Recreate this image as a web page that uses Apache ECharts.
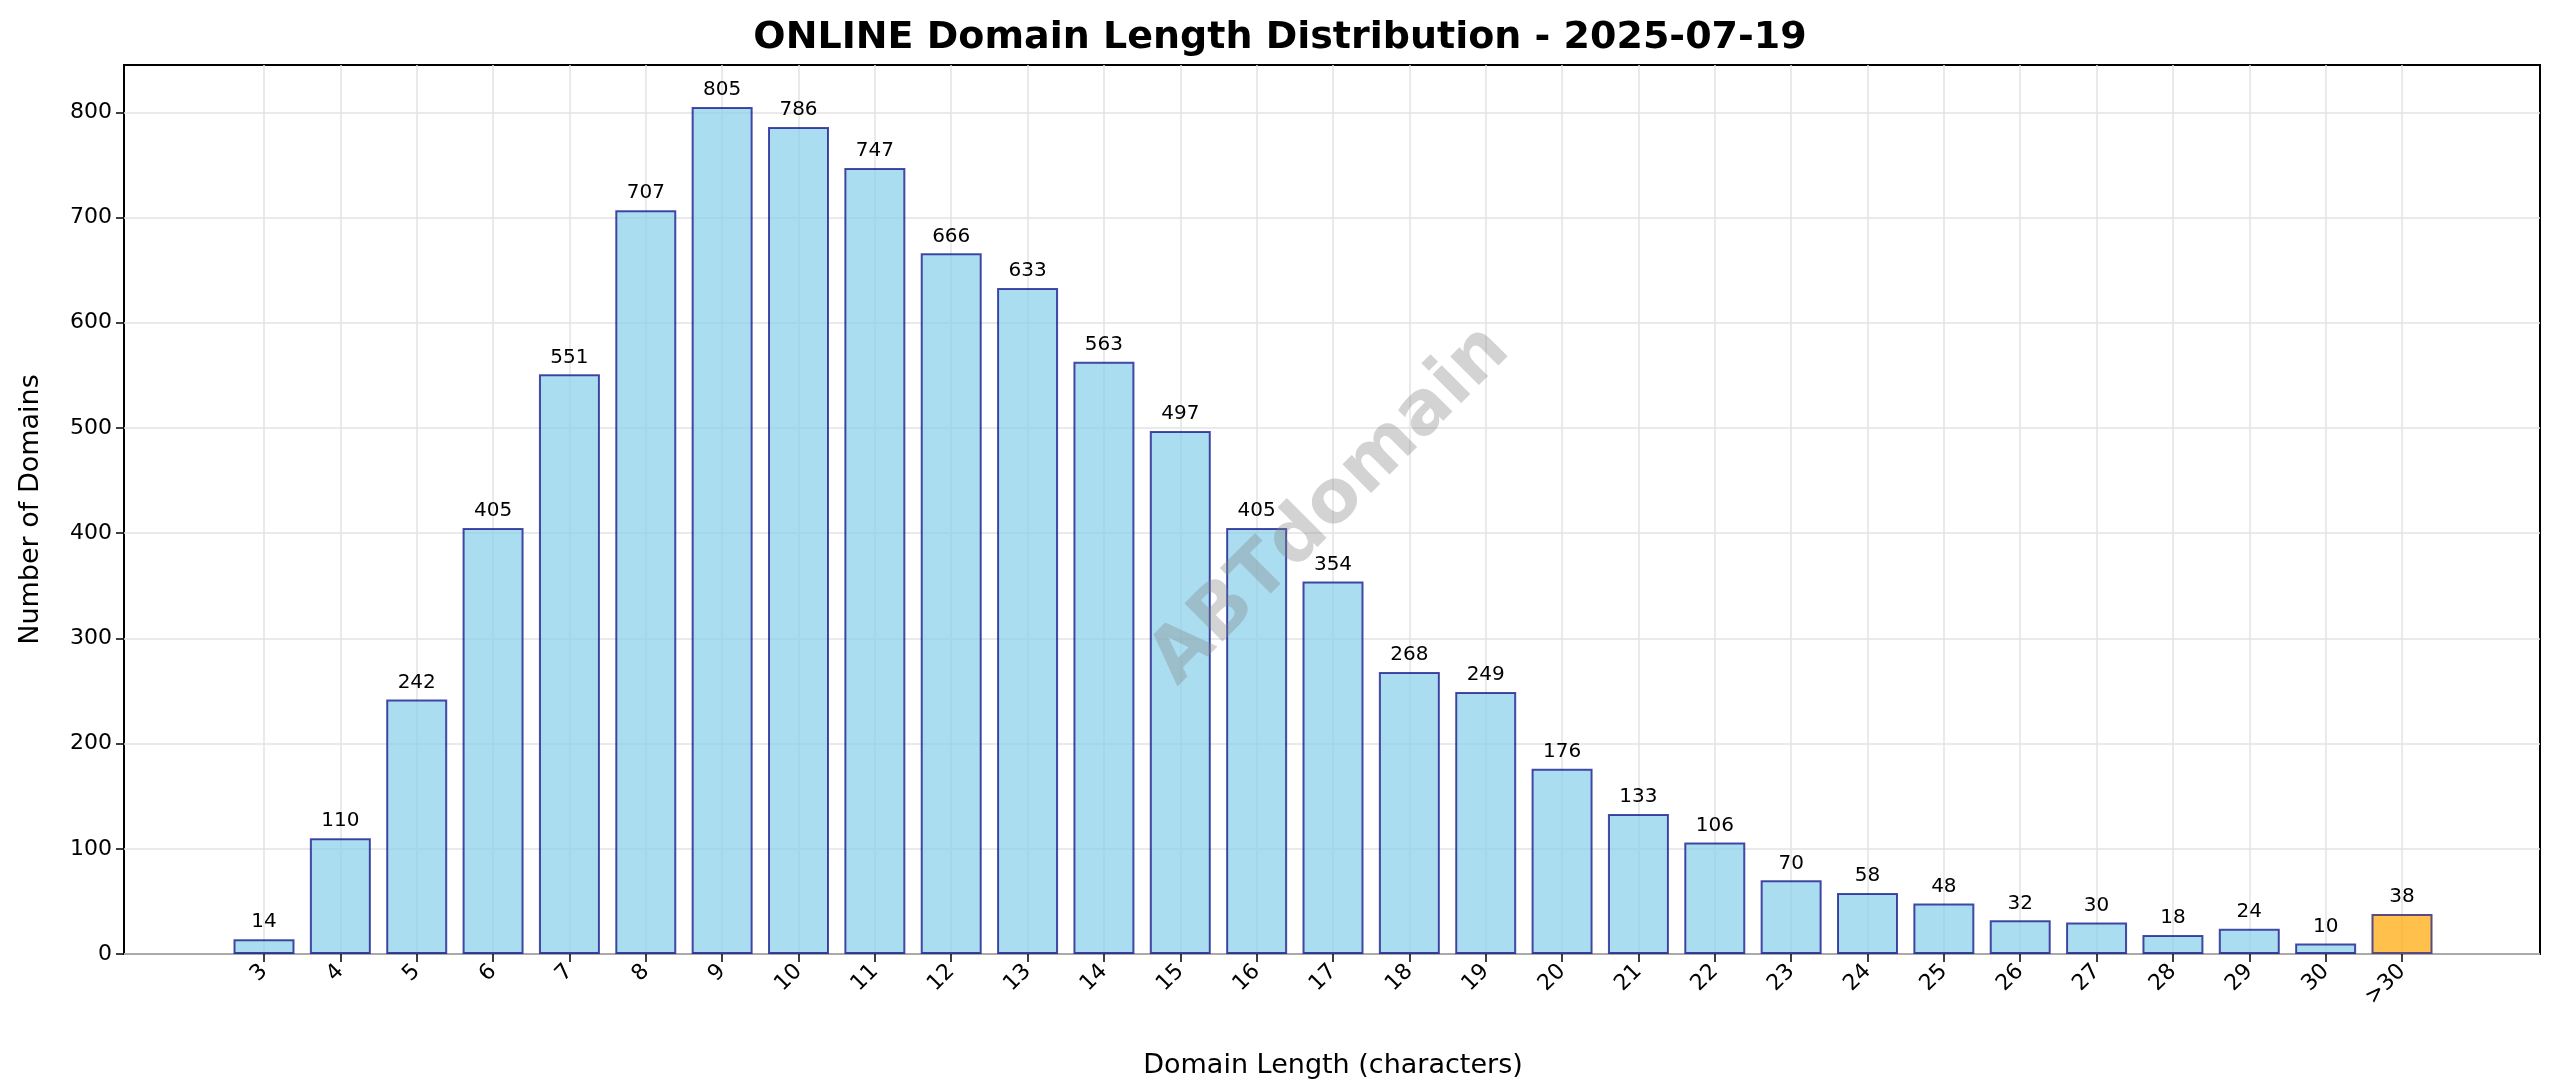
<!DOCTYPE html>
<html><head><meta charset="utf-8">
<script src="https://cdn.jsdelivr.net/npm/echarts@6/dist/echarts.min.js"></script>
<style>html,body{margin:0;padding:0;background:#fff}#c{width:2560px;height:1087px}</style>
</head><body><div id="c"></div>
<script>
const categories = ['3','4','5','6','7','8','9','10','11','12','13','14','15','16','17','18','19','20','21','22','23','24','25','26','27','28','29','30','>30'];
const counts = [14,110,242,405,551,707,805,786,747,666,633,563,497,405,354,268,249,176,133,106,70,58,48,32,30,18,24,10,38];
const yTicks = [0,100,200,300,400,500,600,700,800];

const font = 'DejaVu Sans';
const chart = echarts.init(document.getElementById('c'));
chart.setOption({
  animation:false,
  textStyle:{fontFamily:font},
  title:{text:'ONLINE Domain Length Distribution - 2025-07-19',left:'center',top:14,textStyle:{fontFamily:font,fontSize:38,fontWeight:'bold',color:'#000'}},
  grid:[
    {left:124,right:20,top:65,bottom:133,show:true,borderColor:'#000',borderWidth:2,backgroundColor:'transparent'},
    {left:264,right:158,top:65,bottom:133}
  ],
  xAxis:[
    {gridIndex:0,type:'value',min:0,max:1,show:false},
    {gridIndex:1,type:'category',data:categories,boundaryGap:false,
     axisLine:{show:false},axisTick:{show:true,length:8,lineStyle:{color:'#000',width:1.5}},
     axisLabel:{rotate:45,fontSize:22,color:'#000',margin:14,fontFamily:font,interval:0},
     splitLine:{show:true,interval:0,lineStyle:{color:'#e3e3e3',width:1.5}},
     name:'Domain Length (characters)',nameLocation:'middle',nameGap:98,
     nameTextStyle:{fontSize:27,color:'#000',fontFamily:font}}
  ],
  yAxis:[
    {gridIndex:0,type:'value',min:0,max:845,interval:100,
     axisLine:{show:false},
     axisLabel:{fontSize:22,color:'#000',fontFamily:font,margin:12,customValues:yTicks},
     axisTick:{show:true,length:8,lineStyle:{color:'#000',width:1.5},customValues:yTicks},
     splitLine:{show:true,lineStyle:{color:'#e3e3e3',width:1.5}},
     name:'Number of Domains',nameLocation:'middle',nameGap:80,
     nameTextStyle:{fontSize:27,color:'#000',fontFamily:font}},
    {gridIndex:1,type:'value',min:0,max:845,show:false}
  ],
  series:[{
    type:'bar',xAxisIndex:1,yAxisIndex:1,barWidth:61,
    data:counts.map((v,i)=>({value:v,itemStyle:i===categories.length-1?{color:'rgba(255,165,0,0.7)',borderColor:'#5a4a80'}:{}})),
    itemStyle:{color:'rgba(135,206,235,0.7)',borderColor:'rgba(0,0,128,0.7)',borderWidth:2},
    label:{show:true,position:'top',distance:7,fontSize:20,color:'#000',fontFamily:font}
  }],
  graphic:[{type:'text',x:1331,y:506,rotation:Math.PI/4,
    style:{text:'ABTdomain',x:0,y:0,align:'center',verticalAlign:'middle',fontSize:74,fontWeight:'bold',fontFamily:font,fill:'rgba(128,128,128,0.35)'},
    z:100}]
});
</script></body></html>
